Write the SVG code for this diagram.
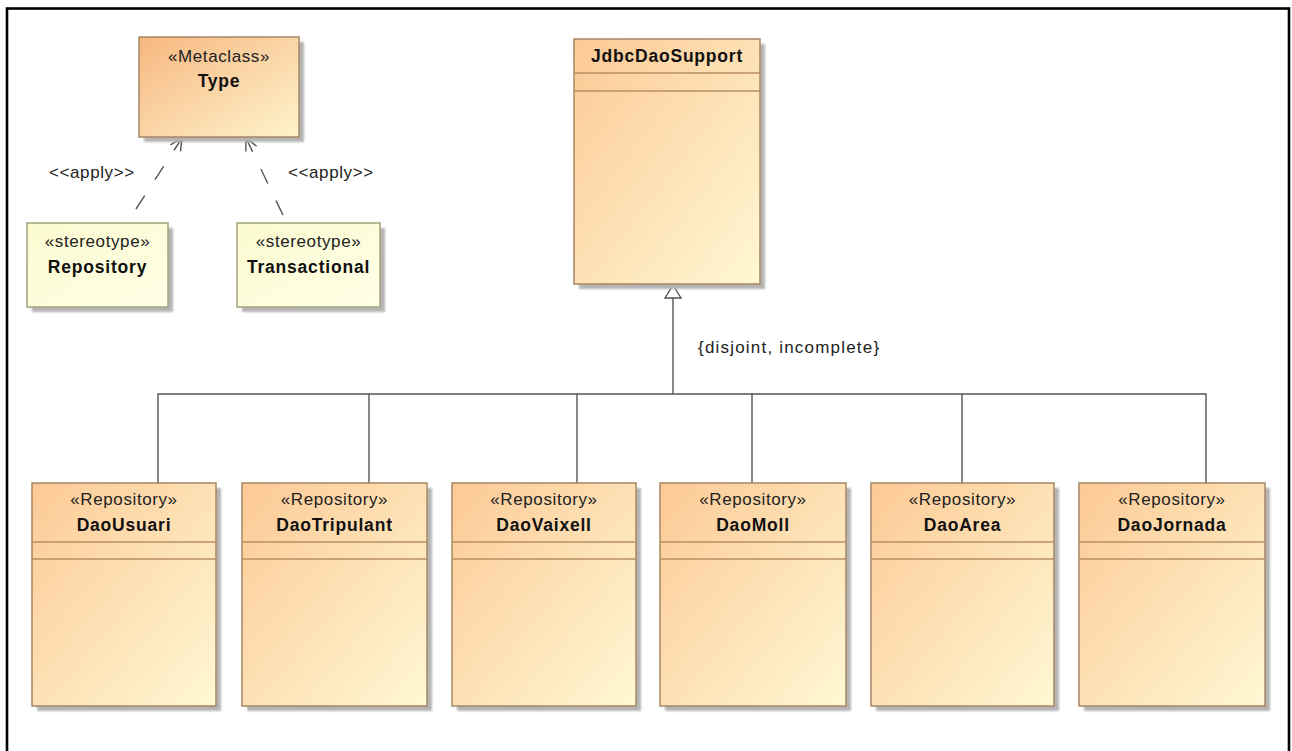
<svg xmlns="http://www.w3.org/2000/svg" width="1292" height="751" viewBox="0 0 1292 751">
  <defs>
    <linearGradient id="gClass" x1="0" y1="0" x2="1" y2="1">
      <stop offset="0" stop-color="#FCC995"/>
      <stop offset="1" stop-color="#FFF8D4"/>
    </linearGradient>
    <linearGradient id="gMeta" x1="0" y1="0" x2="1" y2="1">
      <stop offset="0" stop-color="#F6B780"/>
      <stop offset="1" stop-color="#FFF3CC"/>
    </linearGradient>
    <linearGradient id="gStereo" x1="0" y1="0" x2="1" y2="1">
      <stop offset="0" stop-color="#FBFAD0"/>
      <stop offset="1" stop-color="#FFFFE6"/>
    </linearGradient>
    <filter id="soft" x="-10%" y="-10%" width="130%" height="130%">
      <feGaussianBlur stdDeviation="1.2"/>
    </filter>
    <marker id="openArrow" viewBox="0 0 14 14" refX="13" refY="7" markerWidth="14" markerHeight="14" markerUnits="userSpaceOnUse" orient="auto">
      <path d="M1,1 L13,7 L1,13" fill="none" stroke="#555" stroke-width="1.4"/>
    </marker>
  </defs>
  <style>
    .shadow { fill: #B4B4B4; filter: url(#soft); }
    .cls { fill: url(#gClass); stroke: #A68763; stroke-width: 1.5; }
    .meta { fill: url(#gMeta); stroke: #A68763; stroke-width: 1.5; }
    .stereo { fill: url(#gStereo); stroke: #A3A27E; stroke-width: 1.5; }
    .div { stroke: #B98F62; stroke-width: 1.5; }
    .st { font-family: "Liberation Sans", Arial, sans-serif; font-size: 17px; letter-spacing: 0.6px; fill: #222; text-anchor: middle; }
    .nm { font-family: "Liberation Sans", Arial, sans-serif; font-size: 17.5px; font-weight: bold; letter-spacing: 0.8px; fill: #111; text-anchor: middle; }
    .lbl { font-family: "Liberation Sans", Arial, sans-serif; font-size: 17px; letter-spacing: 0.6px; fill: #222; }
    .conn { stroke: #555; stroke-width: 1.4; fill: none; }
    .dash { stroke-dasharray: 16 19; }
  </style>

  <rect x="0" y="0" width="1292" height="751" fill="#FFFFFF"/>
  <rect x="7" y="8.5" width="1282" height="800" fill="none" stroke="#000" stroke-width="2.6"/>

  <!-- connectors -->
  <g id="connectors">
    <line class="conn dash" x1="136" y1="209" x2="182" y2="138" marker-end="url(#openArrow)"/>
    <line class="conn dash" x1="283" y1="215" x2="246" y2="138" marker-end="url(#openArrow)"/>
    <text class="lbl" x="49" y="178">&lt;&lt;apply&gt;&gt;</text>
    <text class="lbl" x="288" y="178">&lt;&lt;apply&gt;&gt;</text>

    <!-- generalization tree -->
    <polyline class="conn" points="158,483 158,394 1206,394 1206,483"/>
    <line class="conn" x1="369" y1="394" x2="369" y2="483"/>
    <line class="conn" x1="577" y1="394" x2="577" y2="483"/>
    <line class="conn" x1="752" y1="394" x2="752" y2="483"/>
    <line class="conn" x1="962" y1="394" x2="962" y2="483"/>
    <line class="conn" x1="673" y1="394" x2="673" y2="298"/>
    <polygon points="673,285 681,298 665,298" fill="#FFFFFF" stroke="#555" stroke-width="1.4"/>
    <text class="lbl" x="698" y="353" style="letter-spacing:1.2px">{disjoint, incomplete}</text>
  </g>

  <!-- metaclass Type -->
  <g id="type">
    <rect class="shadow" x="144" y="42" width="160" height="100"/>
    <rect class="meta" x="139" y="37" width="160" height="100"/>
    <text class="st" x="219" y="62">«Metaclass»</text>
    <text class="nm" x="219" y="87">Type</text>
  </g>

  <!-- stereotypes -->
  <g id="repository">
    <rect class="shadow" x="32" y="228" width="141" height="84"/>
    <rect class="stereo" x="27" y="223" width="141" height="84"/>
    <text class="st" x="97.5" y="247">«stereotype»</text>
    <text class="nm" x="97.5" y="273">Repository</text>
  </g>
  <g id="transactional">
    <rect class="shadow" x="242" y="228" width="143" height="84"/>
    <rect class="stereo" x="237" y="223" width="143" height="84"/>
    <text class="st" x="308.5" y="247">«stereotype»</text>
    <text class="nm" x="308.5" y="273">Transactional</text>
  </g>

  <!-- superclass -->
  <g id="jdbcDaoSupport">
    <rect class="shadow" x="579" y="44" width="186" height="245"/>
    <rect class="cls" x="574" y="39" width="186" height="245"/>
    <line class="div" x1="574" y1="73" x2="760" y2="73"/>
    <line class="div" x1="574" y1="91" x2="760" y2="91"/>
    <text class="nm" x="667" y="62">JdbcDaoSupport</text>
  </g>

  <!-- repositories -->
  <g id="daoUsuari">
    <rect class="shadow" x="37" y="488" width="184" height="223"/>
    <rect class="cls" x="32" y="483" width="184" height="223"/>
    <line class="div" x1="32" y1="542" x2="216" y2="542"/>
    <line class="div" x1="32" y1="559" x2="216" y2="559"/>
    <text class="st" x="124" y="505">«Repository»</text>
    <text class="nm" x="124" y="531">DaoUsuari</text>
  </g>
  <g id="daoTripulant">
    <rect class="shadow" x="247" y="488" width="185" height="223"/>
    <rect class="cls" x="242" y="483" width="185" height="223"/>
    <line class="div" x1="242" y1="542" x2="427" y2="542"/>
    <line class="div" x1="242" y1="559" x2="427" y2="559"/>
    <text class="st" x="334.5" y="505">«Repository»</text>
    <text class="nm" x="334.5" y="531">DaoTripulant</text>
  </g>
  <g id="daoVaixell">
    <rect class="shadow" x="457" y="488" width="184" height="223"/>
    <rect class="cls" x="452" y="483" width="184" height="223"/>
    <line class="div" x1="452" y1="542" x2="636" y2="542"/>
    <line class="div" x1="452" y1="559" x2="636" y2="559"/>
    <text class="st" x="544" y="505">«Repository»</text>
    <text class="nm" x="544" y="531">DaoVaixell</text>
  </g>
  <g id="daoMoll">
    <rect class="shadow" x="665" y="488" width="186" height="223"/>
    <rect class="cls" x="660" y="483" width="186" height="223"/>
    <line class="div" x1="660" y1="542" x2="846" y2="542"/>
    <line class="div" x1="660" y1="559" x2="846" y2="559"/>
    <text class="st" x="753" y="505">«Repository»</text>
    <text class="nm" x="753" y="531">DaoMoll</text>
  </g>
  <g id="daoArea">
    <rect class="shadow" x="876" y="488" width="183" height="223"/>
    <rect class="cls" x="871" y="483" width="183" height="223"/>
    <line class="div" x1="871" y1="542" x2="1054" y2="542"/>
    <line class="div" x1="871" y1="559" x2="1054" y2="559"/>
    <text class="st" x="962.5" y="505">«Repository»</text>
    <text class="nm" x="962.5" y="531">DaoArea</text>
  </g>
  <g id="daoJornada">
    <rect class="shadow" x="1084" y="488" width="186" height="223"/>
    <rect class="cls" x="1079" y="483" width="186" height="223"/>
    <line class="div" x1="1079" y1="542" x2="1265" y2="542"/>
    <line class="div" x1="1079" y1="559" x2="1265" y2="559"/>
    <text class="st" x="1172" y="505">«Repository»</text>
    <text class="nm" x="1172" y="531">DaoJornada</text>
  </g>
</svg>
